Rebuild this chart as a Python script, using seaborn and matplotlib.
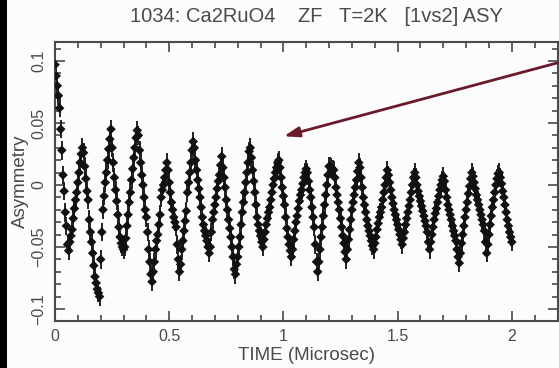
import numpy as np
import pandas as pd
import matplotlib
matplotlib.use("Agg")
import matplotlib.pyplot as plt
from matplotlib.patches import Rectangle
from matplotlib.ticker import FixedLocator, FixedFormatter, MultipleLocator
import seaborn as sns

# ---- data (asymmetry in units of 1e-3, one bin every 0.005 microsec) ----
asy_milli = [
    97, 88, 80, 72, 62, 45, 28, 8, -5, -22, -33, -48, -53,
    -46, -41, -36, -27, -19, -12, -6, 2, 10, 18, 25, 30,
    26, 15, 5, -5, -12, -28, -38, -46, -55, -65, -74, -79, -84, -87, -90,
    -60, -38, -20, -9, 2, 10, 20, 29, 37, 45,
    30, 18, 6, -4, -13, -24, -34, -42, -47, -50, -52,
    -50, -43, -33, -24, -14, -6, 4, 13, 22, 30, 38, 44,
    40, 28, 18, 8, 0, -10, -20, -26, -38, -52, -62, -72, -78,
    -70, -62, -52, -45, -40, -32, -24, -10, -4, 0, 6, 12, 18,
    12, 2, -6, -14, -20, -26, -30, -34, -48, -60, -70,
    -64, -52, -45, -37, -29, -21, -6, 2, 10, 18, 28, 35,
    30, 20, 12, 4, -3, -10, -18, -26, -32, -37, -41, -45, -50, -55,
    -50, -38, -28, -22, -16, -10, -3, 3, 8, 16, 23,
    14, 6, -2, -12, -20, -28, -35, -42, -50, -58, -68, -72,
    -64, -58, -50, -42, -32, -22, -14, -6, 2, 10, 18, 27, 30,
    22, 12, 3, -6, -16, -26, -32, -37, -41, -46, -50,
    -44, -38, -32, -27, -22, -18, -12, -6, 0, 5, 10, 14, 18, 20,
    14, 6, -2, -9, -16, -26, -35, -42, -48, -53, -58,
    -52, -44, -37, -30, -25, -19, -13, -8, -4, 1, 6, 10, 13,
    10, 3, -4, -10, -18, -26, -34, -48, -62, -70,
    -62, -52, -42, -34, -25, -16, -8, 0, 8, 15,
    15, 14, 13, 12, 6, -2, -8, -14, -20, -27, -34, -41, -47, -54, -60,
    -52, -44, -36, -28, -20, -14, -8, -2, 4, 11, 18,
    14, 6, -2, -10, -16, -22, -28, -33, -37, -41, -45, -49, -52,
    -47, -42, -36, -31, -26, -22, -18, -12, -6, 0, 6, 12,
    8, 2, -4, -10, -15, -20, -24, -28, -32, -36, -40, -44, -48,
    -43, -38, -32, -27, -22, -17, -12, -6, 0, 6, 10,
    6, 0, -5, -9, -13, -17, -21, -25, -29, -33, -38, -46, -52,
    -46, -40, -34, -28, -23, -19, -14, -9, -4, 0, 4, 7,
    3, -4, -10, -16, -20, -24, -28, -33, -37, -41, -45, -52, -58, -63,
    -55, -47, -40, -33, -26, -20, -14, -7, -1, 5, 10,
    7, 2, -3, -8, -12, -16, -20, -24, -28, -32, -37, -46, -55,
    -48, -40, -32, -25, -18, -12, -6, 0, 5, 9, 10,
    6, 1, -5, -10, -16, -22, -28, -33, -38, -42, -46,
]
asy_err = 0.0075
t_start, t_end = 0.0, 2.0

x_ticks = [0, 0.5, 1, 1.5, 2]
x_tick_labels = ["0", "0.5", "1", "1.5", "2"]
y_ticks = [-0.1, -0.05, 0, 0.05, 0.1]
y_tick_labels = ["\u22120.1", "\u22120.05", "0", "0.05", "0.1"]
title_text = "1034: Ca2RuO4    ZF   T=2K   [1vs2] ASY"
x_label = "TIME (Microsec)"
y_label = "Asymmetry"

asy = np.array(asy_milli) / 1000.0
time = np.linspace(t_start, t_end, len(asy))
df = pd.DataFrame({"time": time, "asy": asy})

# ---- figure ----
sns.set_style("ticks")
plt.rcParams["font.family"] = ["Liberation Sans", "DejaVu Sans"]
W, H = 559, 368
fig = plt.figure(figsize=(W / 100, H / 100), dpi=100, facecolor="#fcfcfc")
ax = fig.add_axes([55 / W, 1 - 321 / H, 502.5 / W, (321 - 42) / H])
ax.set_facecolor("#fcfcfc")

grey = "#4a4a4a"
ax.errorbar(df["time"], df["asy"], yerr=asy_err, fmt="none",
            ecolor="#222222", elinewidth=1.4, capsize=0, zorder=2)
sns.scatterplot(data=df, x="time", y="asy", ax=ax, marker="D", s=24,
                color="#111111", edgecolor="none", linewidth=0, zorder=3,
                legend=False)

ax.set_xlim(0, 2.2)
ax.set_ylim(-0.1097, 0.1153)

ax.xaxis.set_major_locator(FixedLocator(x_ticks))
ax.xaxis.set_major_formatter(FixedFormatter(x_tick_labels))
ax.xaxis.set_minor_locator(MultipleLocator(0.1))
ax.yaxis.set_major_locator(FixedLocator(y_ticks))
ax.yaxis.set_major_formatter(FixedFormatter(y_tick_labels))
ax.yaxis.set_minor_locator(MultipleLocator(0.01))

ax.tick_params(which="both", direction="in", top=True, right=True,
               color=grey, width=1.2)
ax.tick_params(which="major", length=7)
ax.tick_params(which="minor", length=4)
ax.tick_params(axis="x", labelsize=11.5, labelcolor=grey, pad=6)
ax.tick_params(axis="y", labelsize=11.5, labelcolor=grey, pad=6,
               labelrotation=90)
for lab in ax.get_yticklabels():
    lab.set_verticalalignment("center")

for sp in ax.spines.values():
    sp.set_color(grey)
    sp.set_linewidth(1.5)

ax.set_xlabel(x_label, fontsize=13.5, color=grey, labelpad=2)
ax.set_ylabel(y_label, fontsize=13.5, color=grey, labelpad=2)

fig.text(316 / W, 1 - 16 / H, title_text, fontsize=14.5, color=grey,
         ha="center", va="center")

# annotation arrow drawn over the frame
ax.annotate("", xy=(0.99, 0.0387), xytext=(2.21, 0.099),
            arrowprops=dict(arrowstyle="-|>,head_length=0.9,head_width=0.3",
                            color="#6b1a2b", lw=2.0),
            annotation_clip=False)

# dark band at the left edge
fig.patches.append(Rectangle((0, 0), 7 / W, 1, transform=fig.transFigure,
                             facecolor="black", edgecolor="none", zorder=10))

fig.savefig("out.png", dpi=100, facecolor=fig.get_facecolor())
